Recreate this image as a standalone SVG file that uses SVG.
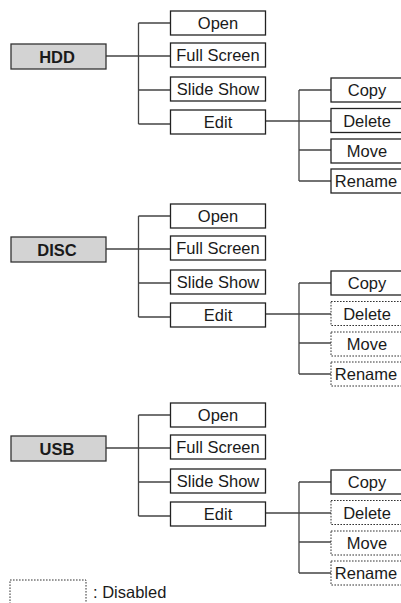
<svg xmlns="http://www.w3.org/2000/svg" width="401" height="603" viewBox="0 0 401 603">
<defs>
<style>
.bg{fill:#fff}
.root rect{fill:#d3d3d3;stroke:#333;stroke-width:1.3}
.box rect{fill:#fff;stroke:#222;stroke-width:1.3}
.dis rect{fill:#fff;stroke:#333;stroke-width:1;stroke-dasharray:1.6 1.4}
text{font-family:"Liberation Sans",Arial,sans-serif;font-size:16.5px;fill:#1a1a1a;text-anchor:middle}
.root text{font-weight:bold}
.conn path{fill:none;stroke:#444;stroke-width:1.3}
</style>
</defs>
<rect class="bg" width="401" height="603"/>

<!-- HDD section -->
<g id="sec-hdd">
<g class="conn">
<path d="M106,56 H170.5 M138.5,23 V124 M138.5,23 H170.5 M138.5,90 H170.5 M138.5,124 H170.5"/>
<path d="M265.5,121 H331 M299,90 V181 M299,90 H331 M299,150 H331 M299,181 H331"/>
</g>
<g id="hdd" class="root"><rect x="11" y="44" width="95" height="25"/><text x="57" y="62.5">HDD</text></g>
<g id="hdd-open" class="box"><rect x="170.5" y="11" width="95" height="24"/><text x="218" y="29">Open</text></g>
<g id="hdd-full" class="box"><rect x="170.5" y="43" width="95" height="24"/><text x="218" y="61">Full Screen</text></g>
<g id="hdd-slide" class="box"><rect x="170.5" y="77" width="95" height="24"/><text x="218" y="95">Slide Show</text></g>
<g id="hdd-edit" class="box"><rect x="170.5" y="110" width="95" height="24"/><text x="218" y="128">Edit</text></g>
<g id="hdd-copy" class="box"><rect x="331" y="78" width="73" height="24"/><text x="367" y="96">Copy</text></g>
<g id="hdd-delete" class="box"><rect x="331" y="108.5" width="73" height="24"/><text x="367" y="126.5">Delete</text></g>
<g id="hdd-move" class="box"><rect x="331" y="139" width="73" height="24"/><text x="367" y="157">Move</text></g>
<g id="hdd-rename" class="box"><rect x="331" y="169" width="73" height="24"/><text x="366" y="187">Rename</text></g>
</g>

<!-- DISC section -->
<g id="sec-disc" transform="translate(0,193)">
<g class="conn">
<path d="M106,56 H170.5 M138.5,23 V124 M138.5,23 H170.5 M138.5,90 H170.5 M138.5,124 H170.5"/>
<path d="M265.5,121 H331 M299,90 V181 M299,90 H331 M299,150 H331 M299,181 H331"/>
</g>
<g id="disc" class="root"><rect x="11" y="44" width="95" height="25"/><text x="57" y="62.5">DISC</text></g>
<g id="disc-open" class="box"><rect x="170.5" y="11" width="95" height="24"/><text x="218" y="29">Open</text></g>
<g id="disc-full" class="box"><rect x="170.5" y="43" width="95" height="24"/><text x="218" y="61">Full Screen</text></g>
<g id="disc-slide" class="box"><rect x="170.5" y="77" width="95" height="24"/><text x="218" y="95">Slide Show</text></g>
<g id="disc-edit" class="box"><rect x="170.5" y="110" width="95" height="24"/><text x="218" y="128">Edit</text></g>
<g id="disc-copy" class="box"><rect x="331" y="78" width="73" height="24"/><text x="367" y="96">Copy</text></g>
<g id="disc-delete" class="dis"><rect x="331" y="108.5" width="73" height="24"/><text x="367" y="126.5">Delete</text></g>
<g id="disc-move" class="dis"><rect x="331" y="139" width="73" height="24"/><text x="367" y="157">Move</text></g>
<g id="disc-rename" class="dis"><rect x="331" y="169" width="73" height="24"/><text x="366" y="187">Rename</text></g>
</g>

<!-- USB section -->
<g id="sec-usb" transform="translate(0,392)">
<g class="conn">
<path d="M106,56 H170.5 M138.5,23 V124 M138.5,23 H170.5 M138.5,90 H170.5 M138.5,124 H170.5"/>
<path d="M265.5,121 H331 M299,90 V181 M299,90 H331 M299,150 H331 M299,181 H331"/>
</g>
<g id="usb" class="root"><rect x="11" y="44" width="95" height="25"/><text x="57" y="62.5">USB</text></g>
<g id="usb-open" class="box"><rect x="170.5" y="11" width="95" height="24"/><text x="218" y="29">Open</text></g>
<g id="usb-full" class="box"><rect x="170.5" y="43" width="95" height="24"/><text x="218" y="61">Full Screen</text></g>
<g id="usb-slide" class="box"><rect x="170.5" y="77" width="95" height="24"/><text x="218" y="95">Slide Show</text></g>
<g id="usb-edit" class="box"><rect x="170.5" y="110" width="95" height="24"/><text x="218" y="128">Edit</text></g>
<g id="usb-copy" class="box"><rect x="331" y="78" width="73" height="24"/><text x="367" y="96">Copy</text></g>
<g id="usb-delete" class="dis"><rect x="331" y="108.5" width="73" height="24"/><text x="367" y="126.5">Delete</text></g>
<g id="usb-move" class="dis"><rect x="331" y="139" width="73" height="24"/><text x="367" y="157">Move</text></g>
<g id="usb-rename" class="dis"><rect x="331" y="169" width="73" height="24"/><text x="366" y="187">Rename</text></g>
</g>

<!-- Legend -->
<g id="legend">
<g class="dis"><rect x="10" y="580" width="76" height="26"/></g>
<text x="93" y="598" style="text-anchor:start">: Disabled</text>
</g>
</svg>
